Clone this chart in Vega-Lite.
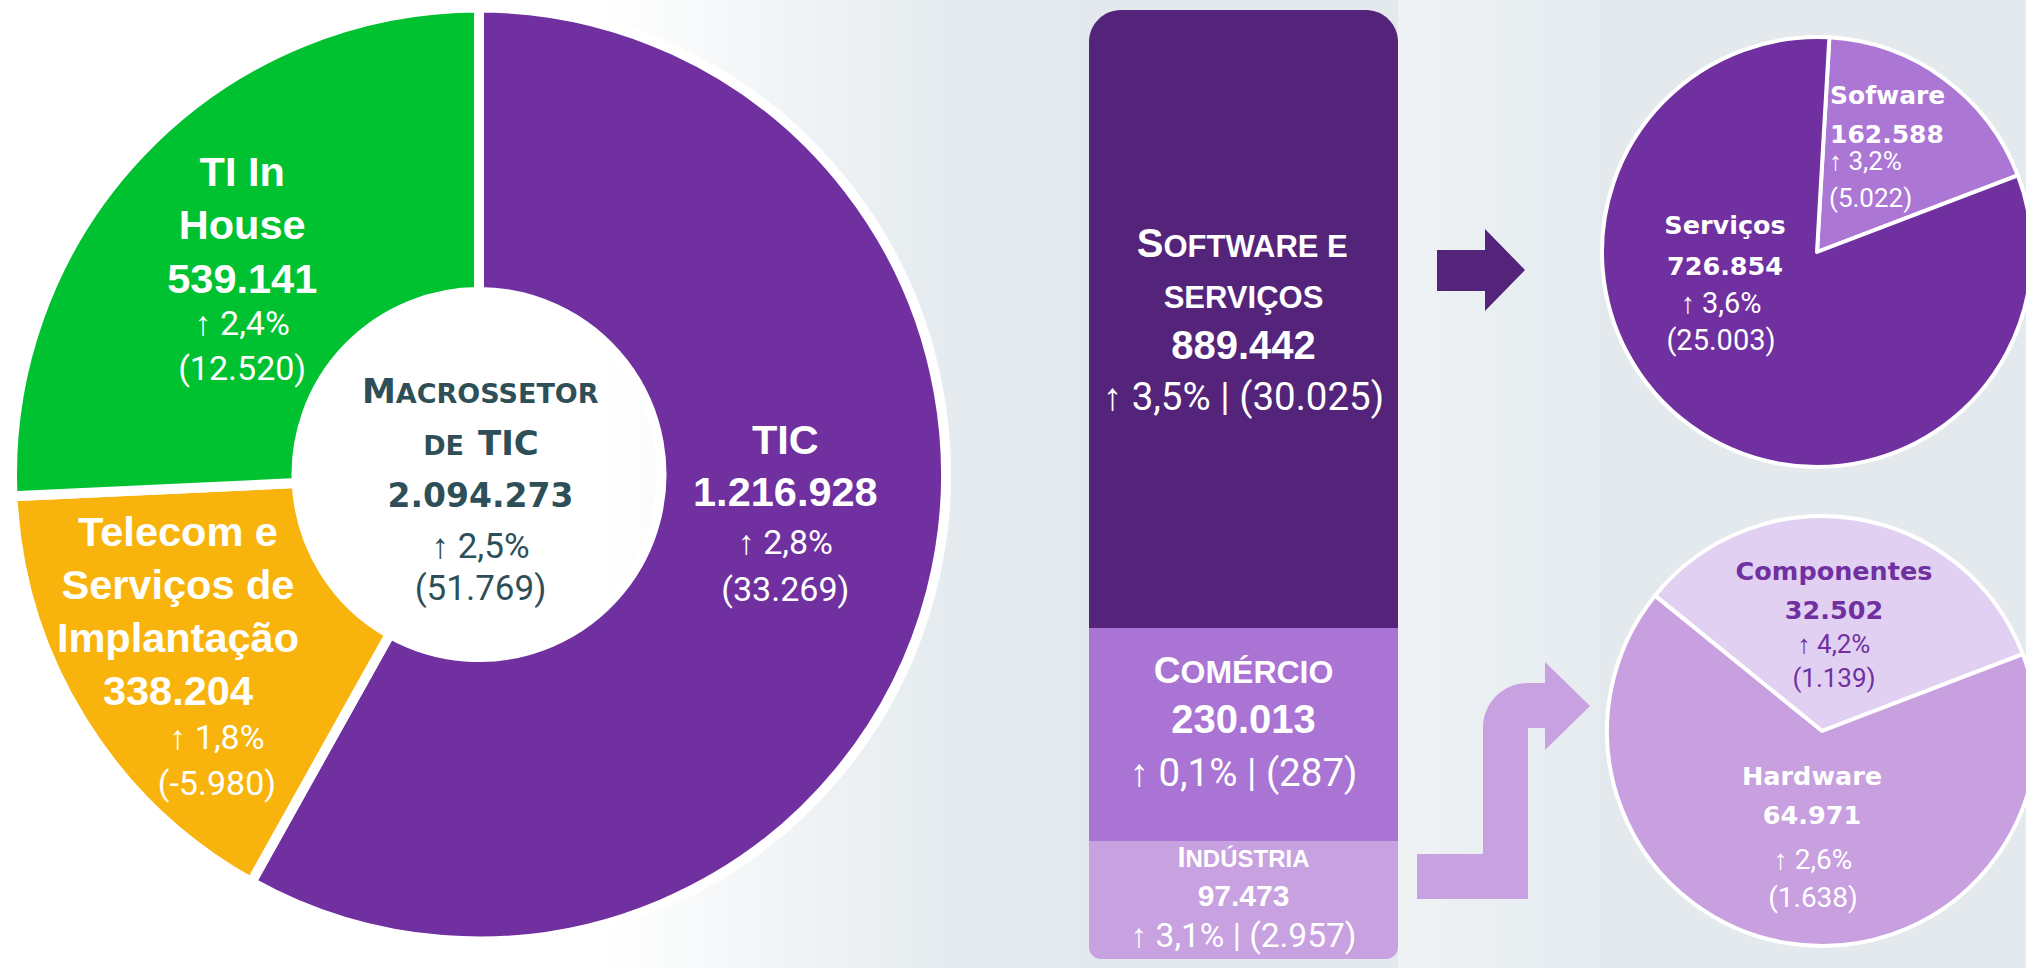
{
  "$schema": "https://vega.github.io/schema/vega-lite/v6.json",
  "background": "#e3e9ed",
  "padding": 0,
  "spacing": 0,
  "resolve": {"scale": {"color": "independent", "theta": "independent", "x": "independent", "y": "independent"}},
  "config": {"view": {"stroke": null}, "concat": {"spacing": 0}, "text": {"font": "Liberation Sans"}},
  "datasets": {
    "macro": [
      {"setor": "TIC", "valor": 1216928, "ordem": 1, "rotulo": "TIC\n1.216.928", "variacao": "↑ 2,8%\n(33.269)"},
      {"setor": "Telecom e Serviços de Implantação", "valor": 338204, "ordem": 2, "rotulo": "Telecom e\nServiços de\nImplantação\n338.204", "variacao": "↑ 1,8%\n(-5.980)"},
      {"setor": "TI In House", "valor": 539141, "ordem": 3, "rotulo": "TI In\nHouse\n539.141", "variacao": "↑ 2,4%\n(12.520)"}
    ],
    "centro": [
      {"titulo": "Macrossetor de TIC", "l1a": "M", "l1b": "ACROSSETOR", "l2a": "DE", "l2b": "TIC", "valor": "2.094.273", "variacao": "↑ 2,5%\n(51.769)"}
    ],
    "tic": [
      {"segmento": "Software e serviços", "valor": 889442, "r1": "S", "r1b": "OFTWARE E", "r2": "SERVIÇOS", "num": "889.442", "var": "↑ 3,5% | (30.025)"},
      {"segmento": "Comércio", "valor": 230013, "r1": "C", "r1b": "OMÉRCIO", "r2": "", "num": "230.013", "var": "↑ 0,1% | (287)"},
      {"segmento": "Indústria", "valor": 97473, "r1": "I", "r1b": "NDÚSTRIA", "r2": "", "num": "97.473", "var": "↑ 3,1% | (2.957)"}
    ],
    "sw": [
      {"segmento": "Sofware", "valor": 162588, "rotulo": "Sofware\n162.588", "variacao": "↑ 3,2%\n(5.022)"},
      {"segmento": "Serviços", "valor": 726854, "rotulo": "Serviços\n726.854", "variacao": "↑ 3,6%\n(25.003)"}
    ],
    "hw": [
      {"segmento": "Componentes", "valor": 32502, "rotulo": "Componentes\n32.502", "variacao": "↑ 4,2%\n(1.139)"},
      {"segmento": "Hardware", "valor": 64971, "rotulo": "Hardware\n64.971", "variacao": "↑ 2,6%\n(1.638)"}
    ]
  },
  "hconcat": [
    {
      "width": 1089,
      "height": 968,
      "view": {"stroke": null, "fill": {"gradient": "linear", "x1": 0, "y1": 0, "x2": 1, "y2": 0, "stops": [{"offset": 0, "color": "#ffffff"}, {"offset": 0.55, "color": "#ffffff"}, {"offset": 0.88, "color": "#e4eaee"}, {"offset": 1, "color": "#e3e9ed"}]}},
      "layer": [
        {
          "data": {"name": "macro"},
          "encoding": {
            "theta": {"field": "valor", "type": "quantitative", "stack": true},
            "order": {"field": "ordem", "type": "quantitative"},
            "detail": {"field": "setor", "type": "nominal"}
          },
          "layer": [
            {
              "mark": {"type": "arc", "outerRadius": 467, "innerRadius": 182.5, "stroke": "#ffffff", "strokeWidth": 10, "strokeJoin": "round", "xOffset": -65.5, "yOffset": -9.5},
              "encoding": {"color": {"field": "setor", "type": "nominal", "legend": null, "scale": {"domain": ["TIC", "Telecom e Serviços de Implantação", "TI In House"], "range": ["#7030a0", "#f8b40c", "#00c130"]}}}
            },
            {
              "mark": {"type": "text", "radius": 315, "dx": -64, "dy": -109.5, "align": "center", "baseline": "alphabetic", "lineBreak": "\n", "lineHeight": 52.5, "font": "Liberation Sans", "fontWeight": "bold", "fontSize": 41.5, "color": "#ffffff"},
              "encoding": {"text": {"condition": {"test": "datum.setor === 'TIC'", "field": "rotulo", "type": "nominal"}, "value": ""}}
            },
            {
              "mark": {"type": "text", "radius": 315, "dx": -64, "dy": -9.5, "align": "center", "baseline": "alphabetic", "lineBreak": "\n", "lineHeight": 47, "font": "Roboto", "fontSize": 34, "color": "#ffffff"},
              "encoding": {"text": {"condition": {"test": "datum.setor === 'TIC'", "field": "variacao", "type": "nominal"}, "value": ""}}
            },
            {
              "mark": {"type": "text", "radius": 328, "dx": -65, "dy": -71.5, "align": "center", "baseline": "alphabetic", "lineBreak": "\n", "lineHeight": 53.3, "font": "Liberation Sans", "fontWeight": "bold", "fontSize": 41.5, "color": "#ffffff"},
              "encoding": {"text": {"condition": {"test": "datum.setor === 'TI In House'", "field": "rotulo", "type": "nominal"}, "value": ""}}
            },
            {
              "mark": {"type": "text", "radius": 328, "dx": -65, "dy": 77, "align": "center", "baseline": "alphabetic", "lineBreak": "\n", "lineHeight": 45, "font": "Roboto", "fontSize": 34, "color": "#ffffff"},
              "encoding": {"text": {"condition": {"test": "datum.setor === 'TI In House'", "field": "variacao", "type": "nominal"}, "value": ""}}
            },
            {
              "mark": {"type": "text", "radius": 354, "dx": -65.5, "dy": -124, "align": "center", "baseline": "alphabetic", "lineBreak": "\n", "lineHeight": 53, "font": "Liberation Sans", "fontWeight": "bold", "fontSize": 41.5, "color": "#ffffff"},
              "encoding": {"text": {"condition": {"test": "datum.setor === 'Telecom e Serviços de Implantação'", "field": "rotulo", "type": "nominal"}, "value": ""}}
            },
            {
              "mark": {"type": "text", "radius": 354, "dx": -26.5, "dy": 78.5, "align": "center", "baseline": "alphabetic", "lineBreak": "\n", "lineHeight": 46.5, "font": "Roboto", "fontSize": 34, "color": "#ffffff"},
              "encoding": {"text": {"condition": {"test": "datum.setor === 'Telecom e Serviços de Implantação'", "field": "variacao", "type": "nominal"}, "value": ""}}
            }
          ]
        },
        {
          "data": {"name": "centro"},
          "layer": [
            {"mark": {"type": "text", "align": "right", "dx": -148.7, "dy": -81.3, "baseline": "alphabetic", "font": "DejaVu Sans", "fontWeight": "bold", "fontSize": 34, "color": "#2e4f57"}, "encoding": {"text": {"field": "l1a", "type": "nominal"}}},
            {"mark": {"type": "text", "align": "left", "dx": -148.7, "dy": -81.3, "baseline": "alphabetic", "font": "DejaVu Sans", "fontWeight": "bold", "fontSize": 27, "color": "#2e4f57"}, "encoding": {"text": {"field": "l1b", "type": "nominal"}}},
            {"mark": {"type": "text", "align": "right", "dx": -80.5, "dy": -29, "baseline": "alphabetic", "font": "DejaVu Sans", "fontWeight": "bold", "fontSize": 27, "color": "#2e4f57"}, "encoding": {"text": {"field": "l2a", "type": "nominal"}}},
            {"mark": {"type": "text", "align": "left", "dx": -66.5, "dy": -29, "baseline": "alphabetic", "font": "DejaVu Sans", "fontWeight": "bold", "fontSize": 34, "color": "#2e4f57"}, "encoding": {"text": {"field": "l2b", "type": "nominal"}}},
            {"mark": {"type": "text", "align": "center", "dx": -64, "dy": 22.7, "baseline": "alphabetic", "font": "DejaVu Sans", "fontWeight": "bold", "fontSize": 33, "color": "#2e4f57"}, "encoding": {"text": {"field": "valor", "type": "nominal"}}},
            {"mark": {"type": "text", "align": "center", "dx": -64, "dy": 74, "baseline": "alphabetic", "lineBreak": "\n", "lineHeight": 42, "font": "Roboto", "fontSize": 35, "color": "#2e4f57"}, "encoding": {"text": {"field": "variacao", "type": "nominal"}}}
          ]
        }
      ]
    },
    {
      "vconcat": [
        {"width": 309, "height": 10, "data": {"values": []}, "mark": "point"},
        {
          "width": 309,
          "height": 618,
          "data": {"name": "tic"},
          "transform": [{"filter": "datum.segmento === 'Software e serviços'"}],
          "layer": [
            {
              "mark": {"type": "bar", "color": "#53247a", "cornerRadiusTopLeft": 32, "cornerRadiusTopRight": 32},
              "encoding": {
                "x": {"field": "segmento", "type": "nominal", "axis": null, "scale": {"paddingInner": 0, "paddingOuter": 0}},
                "y": {"field": "valor", "type": "quantitative", "axis": null, "scale": {"nice": false, "zero": true}}
              }
            },
            {"mark": {"type": "text", "align": "right", "dx": -80, "dy": -61.6, "baseline": "alphabetic", "font": "Liberation Sans", "fontWeight": "bold", "fontSize": 40, "color": "#ffffff"}, "encoding": {"text": {"field": "r1", "type": "nominal"}}},
            {"mark": {"type": "text", "align": "left", "dx": -80, "dy": -61.6, "baseline": "alphabetic", "font": "Liberation Sans", "fontWeight": "bold", "fontSize": 31, "color": "#ffffff"}, "encoding": {"text": {"field": "r1b", "type": "nominal"}}},
            {"mark": {"type": "text", "align": "center", "dy": -11, "baseline": "alphabetic", "font": "Liberation Sans", "fontWeight": "bold", "fontSize": 31, "color": "#ffffff"}, "encoding": {"text": {"field": "r2", "type": "nominal"}}},
            {"mark": {"type": "text", "align": "center", "dy": 40.3, "baseline": "alphabetic", "font": "Liberation Sans", "fontWeight": "bold", "fontSize": 40, "color": "#ffffff"}, "encoding": {"text": {"field": "num", "type": "nominal"}}},
            {"mark": {"type": "text", "align": "center", "dy": 91, "baseline": "alphabetic", "font": "Roboto", "fontSize": 38.5, "color": "#ffffff"}, "encoding": {"text": {"field": "var", "type": "nominal"}}}
          ]
        },
        {
          "width": 309,
          "height": 213,
          "data": {"name": "tic"},
          "transform": [{"filter": "datum.segmento === 'Comércio'"}],
          "layer": [
            {
              "mark": {"type": "bar", "color": "#a974d4"},
              "encoding": {
                "x": {"field": "segmento", "type": "nominal", "axis": null, "scale": {"paddingInner": 0, "paddingOuter": 0}},
                "y": {"field": "valor", "type": "quantitative", "axis": null, "scale": {"nice": false, "zero": true}}
              }
            },
            {"mark": {"type": "text", "align": "right", "dx": -63, "dy": -51.5, "baseline": "alphabetic", "font": "Liberation Sans", "fontWeight": "bold", "fontSize": 37, "color": "#ffffff"}, "encoding": {"text": {"field": "r1", "type": "nominal"}}},
            {"mark": {"type": "text", "align": "left", "dx": -63, "dy": -51.5, "baseline": "alphabetic", "font": "Liberation Sans", "fontWeight": "bold", "fontSize": 32, "color": "#ffffff"}, "encoding": {"text": {"field": "r1b", "type": "nominal"}}},
            {"mark": {"type": "text", "align": "center", "dy": -1.8, "baseline": "alphabetic", "font": "Liberation Sans", "fontWeight": "bold", "fontSize": 40, "color": "#ffffff"}, "encoding": {"text": {"field": "num", "type": "nominal"}}},
            {"mark": {"type": "text", "align": "center", "dy": 51, "baseline": "alphabetic", "font": "Roboto", "fontSize": 38.5, "color": "#ffffff"}, "encoding": {"text": {"field": "var", "type": "nominal"}}}
          ]
        },
        {
          "width": 309,
          "height": 118,
          "data": {"name": "tic"},
          "transform": [{"filter": "datum.segmento === 'Indústria'"}],
          "layer": [
            {
              "mark": {"type": "bar", "color": "#c8a1e0", "cornerRadiusBottomLeft": 12, "cornerRadiusBottomRight": 12},
              "encoding": {
                "x": {"field": "segmento", "type": "nominal", "axis": null, "scale": {"paddingInner": 0, "paddingOuter": 0}},
                "y": {"field": "valor", "type": "quantitative", "axis": null, "scale": {"nice": false, "zero": true}}
              }
            },
            {"mark": {"type": "text", "align": "right", "dx": -58, "dy": -33.3, "baseline": "alphabetic", "font": "Liberation Sans", "fontWeight": "bold", "fontSize": 29, "color": "#ffffff"}, "encoding": {"text": {"field": "r1", "type": "nominal"}}},
            {"mark": {"type": "text", "align": "left", "dx": -58, "dy": -33.3, "baseline": "alphabetic", "font": "Liberation Sans", "fontWeight": "bold", "fontSize": 24, "color": "#ffffff"}, "encoding": {"text": {"field": "r1b", "type": "nominal"}}},
            {"mark": {"type": "text", "align": "center", "dy": 6, "baseline": "alphabetic", "font": "Liberation Sans", "fontWeight": "bold", "fontSize": 30, "color": "#ffffff"}, "encoding": {"text": {"field": "num", "type": "nominal"}}},
            {"mark": {"type": "text", "align": "center", "dy": 47, "baseline": "alphabetic", "font": "Roboto", "fontSize": 33.5, "color": "#ffffff"}, "encoding": {"text": {"field": "var", "type": "nominal"}}}
          ]
        }
      ],
      "spacing": 0,
      "bounds": "flush",
      "resolve": {"scale": {"color": "independent", "x": "independent", "y": "independent"}}
    },
    {
      "vconcat": [
        {
          "width": 202,
          "height": 504,
          "view": {"stroke": null, "fill": {"gradient": "linear", "x1": 0, "y1": 0, "x2": 1, "y2": 0, "stops": [{"offset": 0, "color": "#eef2f5"}, {"offset": 1, "color": "#e5ebef"}]}},
          "data": {"values": [{"seta": "Software e serviços → Serviços e Sofware"}]},
          "mark": {"type": "point", "shape": "M-62,-2L-14,-2L-14,-23L26,18L-14,59L-14,39L-62,39Z", "size": 4, "filled": true, "color": "#53247a", "opacity": 1, "strokeWidth": 0}
        },
        {
          "width": 202,
          "height": 464,
          "view": {"stroke": null, "fill": {"gradient": "linear", "x1": 0, "y1": 0, "x2": 1, "y2": 0, "stops": [{"offset": 0, "color": "#eef2f5"}, {"offset": 1, "color": "#e5ebef"}]}},
          "data": {"values": [{"seta": "Indústria → Componentes e Hardware"}]},
          "mark": {"type": "point", "shape": "M-82,118L-16,118L-16,-8C-16,-33 4,-53 29,-53L46,-53L46,-74L91,-30L46,14L46,-8L29,-8L29,163L-82,163Z", "size": 4, "filled": true, "color": "#c8a1e0", "opacity": 1, "strokeWidth": 0}
        }
      ],
      "spacing": 0,
      "bounds": "flush"
    },
    {
      "vconcat": [
        {
          "width": 434,
          "height": 504,
          "data": {"name": "sw"},
          "layer": [
            {
              "mark": {"type": "arc", "outerRadius": 215, "stroke": "#ffffff", "strokeWidth": 4, "strokeJoin": "round"},
              "encoding": {
                "theta": {"field": "valor", "type": "quantitative", "stack": true, "scale": {"range": [0.0576, 6.3408]}},
                "order": {"field": "valor", "type": "quantitative"},
                "color": {"field": "segmento", "type": "nominal", "legend": null, "scale": {"domain": ["Sofware", "Serviços"], "range": ["#ac76d5", "#7030a0"]}}
              }
            },
            {"transform": [{"filter": "datum.segmento === 'Sofware'"}], "mark": {"type": "text", "align": "left", "dx": 13, "dy": -148, "baseline": "alphabetic", "lineBreak": "\n", "lineHeight": 39.3, "font": "DejaVu Sans", "fontWeight": "bold", "fontSize": 25, "color": "#ffffff"}, "encoding": {"text": {"field": "rotulo", "type": "nominal"}}},
            {"transform": [{"filter": "datum.segmento === 'Sofware'"}], "mark": {"type": "text", "align": "left", "dx": 12, "dy": -82, "baseline": "alphabetic", "lineBreak": "\n", "lineHeight": 37, "font": "Roboto", "fontSize": 26, "color": "#ffffff"}, "encoding": {"text": {"field": "variacao", "type": "nominal"}}},
            {"transform": [{"filter": "datum.segmento === 'Serviços'"}], "mark": {"type": "text", "align": "center", "dx": -92, "dy": -17.7, "baseline": "alphabetic", "lineBreak": "\n", "lineHeight": 40.4, "font": "DejaVu Sans", "fontWeight": "bold", "fontSize": 25.5, "color": "#ffffff"}, "encoding": {"text": {"field": "rotulo", "type": "nominal"}}},
            {"transform": [{"filter": "datum.segmento === 'Serviços'"}], "mark": {"type": "text", "align": "center", "dx": -96, "dy": 61, "baseline": "alphabetic", "lineBreak": "\n", "lineHeight": 37, "font": "Roboto", "fontSize": 29, "color": "#ffffff"}, "encoding": {"text": {"field": "variacao", "type": "nominal"}}}
          ]
        },
        {
          "width": 444,
          "height": 454,
          "data": {"name": "hw"},
          "layer": [
            {
              "mark": {"type": "arc", "outerRadius": 215, "stroke": "#ffffff", "strokeWidth": 4, "strokeJoin": "round"},
              "encoding": {
                "theta": {"field": "valor", "type": "quantitative", "stack": true, "scale": {"range": [-0.89, 5.3932]}},
                "order": {"field": "valor", "type": "quantitative"},
                "color": {"field": "segmento", "type": "nominal", "legend": null, "scale": {"domain": ["Componentes", "Hardware"], "range": ["#e2d0f2", "#c8a0e0"]}}
              }
            },
            {"transform": [{"filter": "datum.segmento === 'Componentes'"}], "mark": {"type": "text", "align": "center", "dx": 12, "dy": -151, "baseline": "alphabetic", "lineBreak": "\n", "lineHeight": 38.5, "font": "DejaVu Sans", "fontWeight": "bold", "fontSize": 25.5, "color": "#7030a0"}, "encoding": {"text": {"field": "rotulo", "type": "nominal"}}},
            {"transform": [{"filter": "datum.segmento === 'Componentes'"}], "mark": {"type": "text", "align": "center", "dx": 12, "dy": -78.3, "baseline": "alphabetic", "lineBreak": "\n", "lineHeight": 34.6, "font": "Roboto", "fontSize": 26, "color": "#7030a0"}, "encoding": {"text": {"field": "variacao", "type": "nominal"}}},
            {"transform": [{"filter": "datum.segmento === 'Hardware'"}], "mark": {"type": "text", "align": "center", "dx": -10, "dy": 54, "baseline": "alphabetic", "lineBreak": "\n", "lineHeight": 39, "font": "DejaVu Sans", "fontWeight": "bold", "fontSize": 25.5, "color": "#ffffff"}, "encoding": {"text": {"field": "rotulo", "type": "nominal"}}},
            {"transform": [{"filter": "datum.segmento === 'Hardware'"}], "mark": {"type": "text", "align": "center", "dx": -9, "dy": 138, "baseline": "alphabetic", "lineBreak": "\n", "lineHeight": 38.4, "font": "Roboto", "fontSize": 28, "color": "#ffffff"}, "encoding": {"text": {"field": "variacao", "type": "nominal"}}}
          ]
        }
      ],
      "spacing": 0,
      "bounds": "flush",
      "resolve": {"scale": {"color": "independent", "theta": "independent"}}
    }
  ]
}
